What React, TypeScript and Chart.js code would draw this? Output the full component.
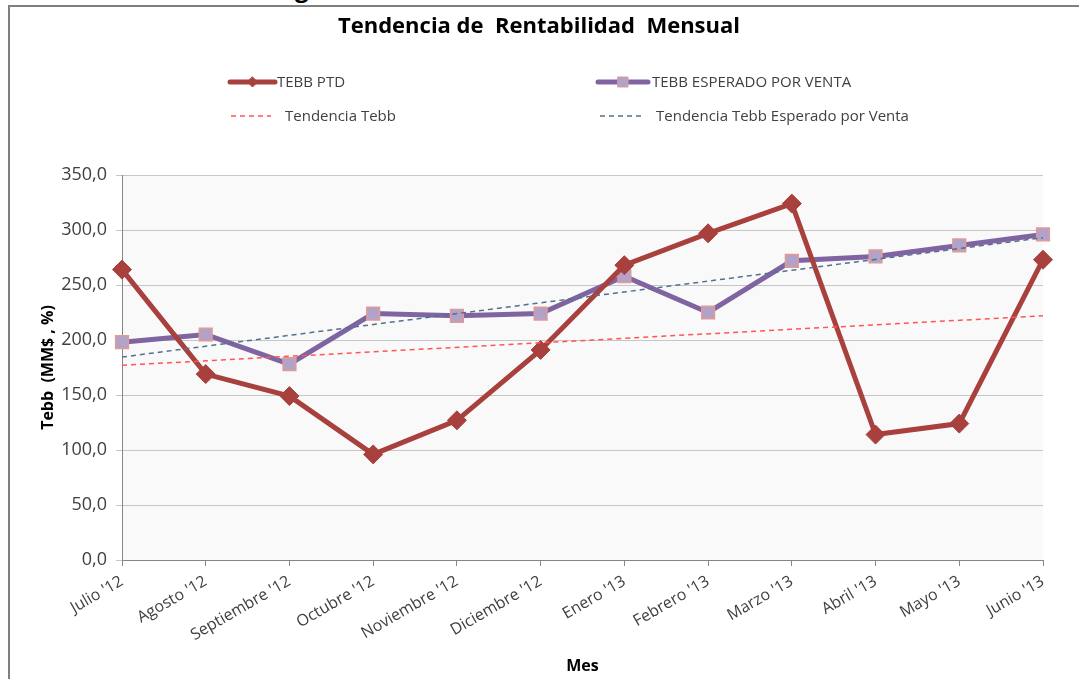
import React, { useEffect, useRef } from 'react';
import { Chart, registerables } from 'chart.js';

Chart.register(...registerables);

const months = [
  "Julio '12", "Agosto '12", "Septiembre '12", "Octubre '12", "Noviembre '12", "Diciembre '12",
  "Enero '13", "Febrero '13", "Marzo '13", "Abril '13", "Mayo '13", "Junio '13",
];
const tebbPtd = [264, 169, 149, 96, 127, 191, 268, 297, 324, 114, 124, 273];
const tebbEsperado = [198, 205, 178, 224, 222, 224, 258, 225, 272, 276, 286, 296];
const trendTebbEnds = [177, 222];
const trendEsperadoEnds = [184.5, 293];
const yMin = 0;
const yMax = 350;
const yStep = 50;

const FONT = '"Open Sans", "Noto Sans", sans-serif';

const bgPlugin = {
  id: 'plotBg',
  beforeDraw(chart: any) {
    const { ctx, chartArea } = chart;
    ctx.save();
    ctx.fillStyle = '#f9f9f9';
    ctx.fillRect(chartArea.left, chartArea.top, chartArea.right - chartArea.left, chartArea.bottom - chartArea.top);
    ctx.restore();
  },
};

const legendSlots = [
  { ds: 0, x: 230, y: 82, w: 45, tx: 277 },
  { ds: 1, x: 598, y: 82, w: 50, tx: 652 },
  { ds: 2, x: 231, y: 116, w: 40, tx: 285 },
  { ds: 3, x: 600, y: 116, w: 42, tx: 656 },
];

const legendPlugin = {
  id: 'gridLegend',
  afterDraw(chart: any) {
    const ctx = chart.ctx;
    const dsets = chart.data.datasets;
    ctx.save();
    legendSlots.forEach((s) => {
      const d: any = dsets[s.ds];
      ctx.save();
      ctx.strokeStyle = d.borderColor;
      ctx.lineWidth = d.borderWidth;
      ctx.lineCap = d.borderDash ? 'butt' : 'round';
      ctx.setLineDash(d.borderDash || []);
      ctx.beginPath();
      ctx.moveTo(s.x, s.y);
      ctx.lineTo(s.x + s.w, s.y);
      ctx.stroke();
      ctx.setLineDash([]);
      if (d.pointRadius > 0) {
        const cx = s.x + s.w / 2;
        ctx.fillStyle = d.pointBackgroundColor;
        ctx.strokeStyle = d.pointBorderColor;
        ctx.lineWidth = 1;
        ctx.beginPath();
        if (d.pointStyle === 'rectRot') {
          const r = 5;
          ctx.moveTo(cx, s.y - r);
          ctx.lineTo(cx + r, s.y);
          ctx.lineTo(cx, s.y + r);
          ctx.lineTo(cx - r, s.y);
          ctx.closePath();
        } else {
          ctx.rect(cx - 5, s.y - 5, 10, 10);
        }
        ctx.fill();
        ctx.stroke();
      }
      ctx.restore();
      ctx.font = `15px ${FONT}`;
      ctx.fillStyle = '#404040';
      ctx.textBaseline = 'middle';
      ctx.textAlign = 'left';
      ctx.fillText(d.label, s.tx, s.y + 1);
    });
    ctx.restore();
  },
};

export default function App() {
  const ref = useRef<HTMLCanvasElement | null>(null);

  useEffect(() => {
    if (!ref.current) return;
    const chart = new Chart(ref.current, {
      type: 'line',
      data: {
        labels: months,
        datasets: [
          {
            label: 'TEBB PTD',
            data: tebbPtd,
            borderColor: '#A8403E',
            backgroundColor: '#A8403E',
            borderWidth: 5,
            pointStyle: 'rectRot',
            pointRadius: 9.5,
            pointBackgroundColor: '#A8403E',
            pointBorderColor: '#A8403E',
            pointBorderWidth: 1,
            tension: 0,
            order: 1,
          } as any,
          {
            label: 'TEBB ESPERADO POR VENTA',
            data: tebbEsperado,
            borderColor: '#8064A2',
            backgroundColor: '#8064A2',
            borderWidth: 5,
            pointStyle: 'rect',
            pointRadius: 9,
            pointBackgroundColor: '#B3A2C7',
            pointBorderColor: '#E09A98',
            pointBorderWidth: 1.5,
            tension: 0,
            order: 2,
          } as any,
          {
            label: 'Tendencia Tebb',
            data: [
              { x: months[0], y: trendTebbEnds[0] },
              { x: months[months.length - 1], y: trendTebbEnds[1] },
            ],
            borderColor: '#FF5555',
            borderWidth: 1.5,
            borderDash: [5, 4],
            pointRadius: 0,
            tension: 0,
            order: 0,
          } as any,
          {
            label: 'Tendencia Tebb Esperado por Venta',
            data: [
              { x: months[0], y: trendEsperadoEnds[0] },
              { x: months[months.length - 1], y: trendEsperadoEnds[1] },
            ],
            borderColor: '#52708F',
            borderWidth: 1.5,
            borderDash: [5, 4],
            pointRadius: 0,
            tension: 0,
            order: 0,
          } as any,
        ],
      },
      options: {
        responsive: false,
        animation: false,
        layout: { padding: { left: 35, right: 36, top: 0, bottom: 0 } },
        plugins: {
          legend: { display: false },
          tooltip: { enabled: false },
          title: {
            display: true,
            text: 'Tendencia de  Rentabilidad  Mensual',
            color: '#000000',
            font: { family: FONT, size: 22, weight: 'bold' },
            padding: { top: 14, bottom: 134.6 },
          },
        },
        scales: {
          x: {
            type: 'category',
            offset: false,
            grid: {
              display: true,
              drawOnChartArea: false,
              drawTicks: true,
              tickLength: 6,
              color: '#868686',
            },
            border: { display: true, color: '#868686', width: 1 },
            ticks: {
              color: '#404040',
              font: { family: FONT, size: 16 },
              minRotation: 30,
              maxRotation: 30,
              autoSkip: false,
              padding: 6,
            },
            title: {
              display: true,
              text: 'Mes',
              color: '#000000',
              font: { family: FONT, size: 16, weight: 'bold' },
              padding: { top: 4, bottom: 3 },
            },
            afterFit: (scale: any) => {
              scale.height = 119;
            },
          },
          y: {
            min: yMin,
            max: yMax,
            ticks: {
              stepSize: yStep,
              color: '#404040',
              font: { family: FONT, size: 18 },
              padding: 9,
              callback: (v: any) => Number(v).toFixed(1).replace('.', ','),
            },
            grid: {
              color: '#C6C6C6',
              tickLength: 6,
              lineWidth: 1,
            },
            border: { display: true, color: '#868686', width: 1 },
            title: {
              display: true,
              text: 'Tebb  (MM$ , %)',
              color: '#000000',
              font: { family: FONT, size: 16, weight: 'bold' },
              padding: { top: 4, bottom: 4 },
            },
            afterFit: (scale: any) => {
              scale.width = 87;
            },
          },
        },
      },
      plugins: [bgPlugin, legendPlugin],
    });
    return () => chart.destroy();
  }, []);

  return (
    <div style={{ position: 'fixed', left: 0, top: 0, width: 1079, height: 679, overflow: 'hidden', background: '#ffffff' }}>
      <span
        style={{
          position: 'absolute',
          left: 295,
          top: -24,
          fontFamily: FONT,
          fontWeight: 'bold',
          fontSize: 24,
          lineHeight: '24px',
          color: '#000',
        }}
      >
        g
      </span>
      <div
        style={{
          position: 'absolute',
          left: 8,
          top: 5,
          width: 1200,
          height: 800,
          borderTop: '2px solid #7f7f7f',
          borderLeft: '2px solid #7f7f7f',
        }}
      />
      <canvas
        ref={ref}
        width={1079}
        height={679}
        style={{ position: 'absolute', left: 0, top: 0, width: 1079, height: 679 }}
      />
    </div>
  );
}
